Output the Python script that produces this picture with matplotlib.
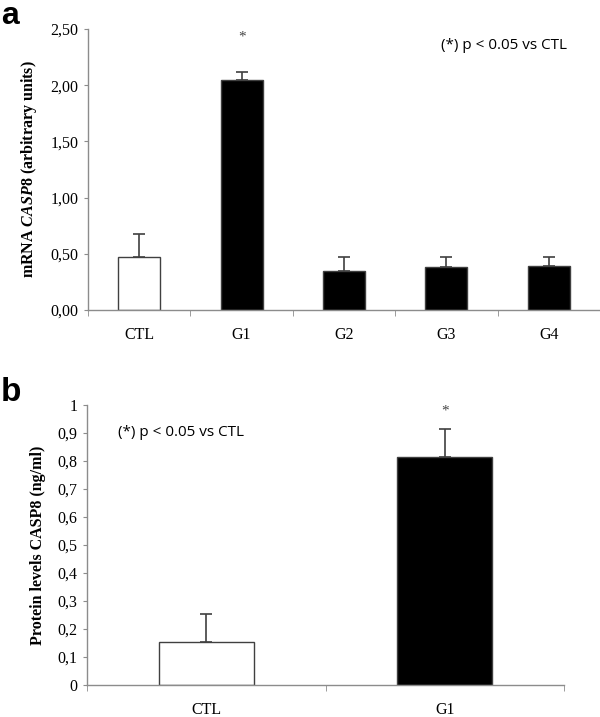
import matplotlib
matplotlib.use("Agg")
import matplotlib.pyplot as plt
import numpy as np
from matplotlib.ticker import FixedLocator

# Panel a data
cats_a = ["CTL", "G1", "G2", "G3", "G4"]
vals_a = [0.47, 2.05, 0.35, 0.38, 0.39]
errs_a = [0.21, 0.07, 0.12, 0.09, 0.08]
colors_a = ["white", "black", "black", "black", "black"]
yticks_a = [0.0, 0.5, 1.0, 1.5, 2.0, 2.5]
ytick_labels_a = ["0,00", "0,50", "1,00", "1,50", "2,00", "2,50"]
star_a = 2.43

# Panel b data
cats_b = ["CTL", "G1"]
vals_b = [0.155, 0.815]
errs_b = [0.10, 0.10]
colors_b = ["white", "black"]
yticks_b = [0, 0.1, 0.2, 0.3, 0.4, 0.5, 0.6, 0.7, 0.8, 0.9, 1.0]
ytick_labels_b = ["0", "0,1", "0,2", "0,3", "0,4", "0,5", "0,6", "0,7", "0,8", "0,9", "1"]
star_b = 0.98

serif = "Liberation Serif"
sans = "Open Sans"
axcol = "#8c8c8c"
edge = "#404040"

plt.rcParams["mathtext.fontset"] = "custom"
plt.rcParams["mathtext.rm"] = "Liberation Serif:bold"
plt.rcParams["mathtext.it"] = "Liberation Serif:italic:bold"
plt.rcParams["mathtext.bf"] = "Liberation Serif:bold"

fig = plt.figure(figsize=(6, 7.17), dpi=100)


def style(ax, n, yticks, ylabels, ymax):
    x = np.arange(n)
    ax.set_xlim(-0.5, n - 0.5)
    ax.set_ylim(0, ymax)
    for s in ["top", "right"]:
        ax.spines[s].set_visible(False)
    for s in ["left", "bottom"]:
        ax.spines[s].set_color(axcol)
        ax.spines[s].set_linewidth(1.0)
    ax.set_yticks(yticks)
    ax.set_yticklabels(ylabels, fontfamily=serif, fontsize=11.5)
    ax.tick_params(axis="y", length=3, color=axcol, pad=4)
    ax.set_xticks(x)
    ax.tick_params(axis="x", which="major", length=0, pad=12)
    ax.xaxis.set_minor_locator(FixedLocator(np.arange(n + 1) - 0.5))
    ax.tick_params(axis="x", which="minor", length=4, color=axcol)
    return x


# Panel a
ax1 = fig.add_axes([88 / 600, 1 - 310 / 717, 512 / 600, 281 / 717])
x1 = style(ax1, len(cats_a), yticks_a, ytick_labels_a, 2.5)
ax1.bar(x1, vals_a, width=0.41, color=colors_a, edgecolor=edge, linewidth=1.0, zorder=2)
ax1.errorbar(x1, vals_a, yerr=[np.zeros(len(vals_a)), errs_a], fmt="none",
             ecolor=edge, elinewidth=1.2, capsize=4.5, capthick=1.2, zorder=3)
ax1.set_xticklabels(cats_a, fontfamily=serif, fontsize=11.5)
ax1.text(x1[1], star_a, "*", ha="center", va="center", fontfamily=serif, fontsize=11, color="#444444")
ax1.text(0.69, 0.94, "(*) p < 0.05 vs CTL", transform=ax1.transAxes, ha="left", va="center",
         fontfamily=sans, fontsize=11)
ax1.set_ylabel("mRNA $\\mathit{CASP8}$ (arbitrary units)", fontfamily=serif,
               fontweight="bold", fontsize=11.5, labelpad=8)
fig.text(1 / 600, 1 - 1 / 717, "a", fontfamily="Liberation Sans", fontweight="bold",
         fontsize=23, ha="left", va="top")

# Panel b
ax2 = fig.add_axes([87 / 600, 1 - 685 / 717, 477 / 600, 280 / 717])
x2 = style(ax2, len(cats_b), yticks_b, ytick_labels_b, 1.0)
ax2.bar(x2, vals_b, width=0.40, color=colors_b, edgecolor=edge, linewidth=1.0, zorder=2)
ax2.errorbar(x2, vals_b, yerr=[np.zeros(len(vals_b)), errs_b], fmt="none",
             ecolor=edge, elinewidth=1.2, capsize=4.5, capthick=1.2, zorder=3)
ax2.set_xticklabels(cats_b, fontfamily=serif, fontsize=11.5)
ax2.text(x2[1], star_b, "*", ha="center", va="center", fontfamily=serif, fontsize=11, color="#444444")
ax2.text(0.065, 0.9, "(*) p < 0.05 vs CTL", transform=ax2.transAxes, ha="left", va="center",
         fontfamily=sans, fontsize=11)
ax2.set_ylabel("Protein levels CASP8 (ng/ml)", fontfamily=serif, fontweight="bold",
               fontsize=11.5, labelpad=8)
fig.text(1 / 600, 1 - 401 / 717, "b", fontfamily="Liberation Sans", fontweight="bold",
         fontsize=24, ha="left", va="baseline")

fig.savefig("out.png", dpi=100, facecolor="white")
